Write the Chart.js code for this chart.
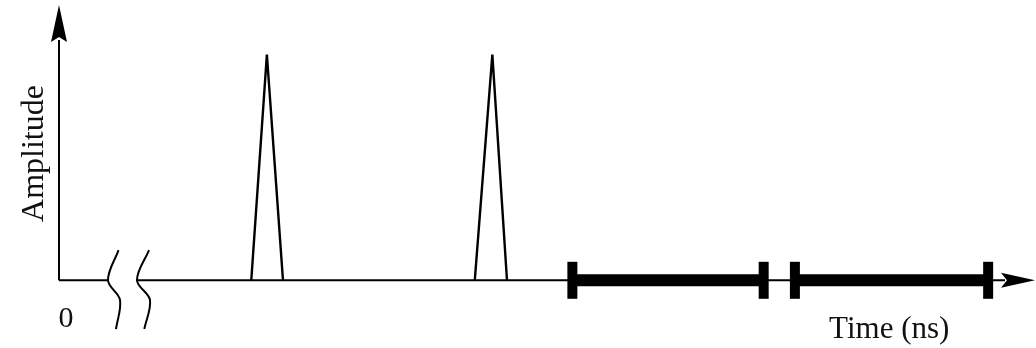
<!DOCTYPE html>
<html>
<head>
<meta charset="utf-8">
<script src="https://cdn.jsdelivr.net/npm/chart.js@4/dist/chart.umd.min.js"></script>
<style>
  html, body { margin: 0; padding: 0; background: #fff; }
</style>
</head>
<body>
<canvas id="pulseChart" width="1036" height="348"></canvas>
<script>
// Time values in arbitrary units (axis runs 0..100), amplitude normalised to 1
const pulse1Time = [19.7, 21.3, 22.95];
const pulse2Time = [42.6, 44.4, 45.9];
const pulseAmp = [0, 1, 0];
const windowStart = [52.6, 75.4];
const windowEnd = [72.2, 95.2];
const breakMark1 = [6.1, 5.02, 6.25, 5.84];
const breakMark2 = [9.22, 7.99, 9.32, 8.74];
const breakAmp = [0.134, 0, -0.087, -0.216];
const axisGap = [5.02, 7.99];
const timeMax = 100;
const ampMax = 1.22;
const ampMin = -0.3;

function pts(xs, ys) {
    return xs.map((x, i) => ({ x: x, y: ys[i] }));
}

function lineSet(data, width, extra) {
    return Object.assign({
        data: data,
        showLine: true,
        borderColor: '#000',
        borderWidth: width,
        pointRadius: 0,
        borderCapStyle: 'butt',
        clip: false,
        tension: 0
    }, extra || {});
}

// axis arrows + labels
const axisDecor = {
    id: 'axisDecor',
    afterDatasetsDraw(chart) {
        const ctx = chart.ctx;
        const xs = chart.scales.x;
        const ys = chart.scales.y;
        const x0 = xs.getPixelForValue(0);
        const y0 = ys.getPixelForValue(0);
        ctx.save();
        ctx.fillStyle = '#000';

        // y arrow (up)
        const ty = ys.getPixelForValue(ampMax);
        ctx.beginPath();
        ctx.moveTo(x0, ty);
        ctx.lineTo(x0 - 8, ty + 37);
        ctx.lineTo(x0, ty + 32);
        ctx.lineTo(x0 + 8, ty + 37);
        ctx.closePath();
        ctx.fill();

        // x arrow (right)
        const tx = xs.getPixelForValue(timeMax);
        ctx.beginPath();
        ctx.moveTo(tx, y0);
        ctx.lineTo(tx - 34, y0 - 7.5);
        ctx.lineTo(tx - 28, y0);
        ctx.lineTo(tx - 34, y0 + 7.5);
        ctx.closePath();
        ctx.fill();

        ctx.fillStyle = '#111';
        ctx.textBaseline = 'alphabetic';

        ctx.font = '30px "Liberation Serif"';
        ctx.textAlign = 'center';
        ctx.fillText('0', x0 + 7, y0 + 47);

        ctx.font = '31px "Liberation Serif"';
        ctx.textAlign = 'left';
        ctx.fillText('Time (ns)', xs.getPixelForValue(78.9), y0 + 58);

        ctx.save();
        ctx.font = '32px "Liberation Serif"';
        ctx.translate(x0 - 16, ys.getPixelForValue(0.562));
        ctx.rotate(-Math.PI / 2);
        ctx.textAlign = 'center';
        ctx.fillText('Amplitude', 0, 0);
        ctx.restore();

        ctx.restore();
    }
};

function start() {
    const ctx = document.getElementById('pulseChart');
    const yArrowBase = ampMax - 35 / 225.66;
    const xArrowBase = timeMax - 30 / 9.76;

    new Chart(ctx, {
        type: 'scatter',
        data: {
            datasets: [
                // axes
                lineSet([{ x: 0, y: 0 }, { x: 0, y: yArrowBase }], 2),
                lineSet([{ x: 0, y: 0 }, { x: axisGap[0], y: 0 }], 2),
                lineSet([{ x: axisGap[1], y: 0 }, { x: xArrowBase, y: 0 }], 2),
                // axis break marks
                lineSet(pts(breakMark1, breakAmp), 2, { tension: 0.35 }),
                lineSet(pts(breakMark2, breakAmp), 2, { tension: 0.35 }),
                // pulses
                lineSet(pts(pulse1Time, pulseAmp), 2.4),
                lineSet(pts(pulse2Time, pulseAmp), 2.4),
                // time windows
                lineSet([{ x: windowStart[0], y: 0 }, { x: windowEnd[0], y: 0 }], 12),
                lineSet([{ x: windowStart[1], y: 0 }, { x: windowEnd[1], y: 0 }], 12),
                // window end caps
                {
                    data: windowStart.concat(windowEnd).map(x => ({ x: x, y: 0 })),
                    showLine: false,
                    pointStyle: 'line',
                    pointRotation: 90,
                    pointRadius: 18.5,
                    pointBorderWidth: 10,
                    pointBorderColor: '#000',
                    pointBackgroundColor: '#000',
                    clip: false
                }
            ]
        },
        options: {
            responsive: false,
            animation: false,
            devicePixelRatio: 1,
            layout: { autoPadding: false, padding: { left: 59, right: 1, top: 5, bottom: 0 } },
            scales: {
                x: { type: 'linear', min: 0, max: timeMax, display: false },
                y: { type: 'linear', min: ampMin, max: ampMax, display: false }
            },
            plugins: {
                legend: { display: false },
                tooltip: { enabled: false }
            }
        },
        plugins: [axisDecor]
    });
}

window.onload = start;
</script>
</body>
</html>
